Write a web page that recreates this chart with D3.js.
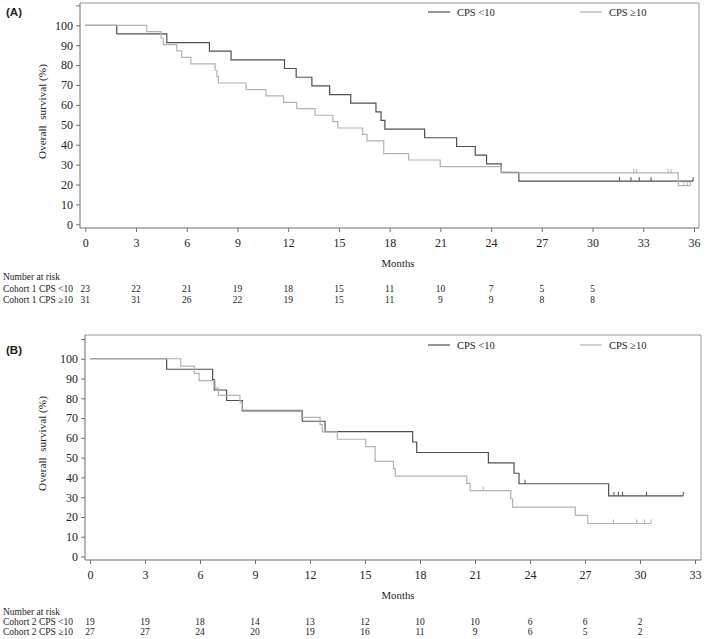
<!DOCTYPE html>
<html><head><meta charset="utf-8">
<script src="https://cdn.jsdelivr.net/npm/d3@7"></script>
<style>body{margin:0;background:#fff}svg{display:block}text{font-family:"Liberation Serif","Times New Roman",serif;fill:#222}</style>
</head><body><svg id="c" width="709" height="639"></svg>
<script>
// ---------- data ----------
const monthTicks = [0,3,6,9,12,15,18,21,24,27,30,33,36];
const survTicks = [0,10,20,30,40,50,60,70,80,90,100,110];
const seriesNames = ["CPS <10","CPS \u226510"];

// Panel A (cohort 1)
const aLtTimes = [1.86,4.82,7.34,8.62,11.78,12.47,13.4,14.45,15.7,17.19,17.49,17.72,20.07,21.96,23.06,23.73,24.6,25.64];
const aLtSurv  = [95.7,91.3,87.0,82.6,78.3,73.9,69.6,65.2,60.9,56.5,52.2,47.8,43.5,39.1,34.8,30.4,26.1,21.7];
const aLtCens  = [31.6,32.27,32.76,33.46,35.95];
const aGeTimes = [3.63,4.48,4.62,5.41,5.7,6.24,7.68,7.78,7.87,9.51,10.68,11.72,12.51,13.59,14.64,14.93,16.4,16.66,17.65,19.12,20.99,24.6,35.07];
const aGeSurv  = [96.8,93.5,90.3,87.1,83.9,80.6,77.4,74.2,71.0,67.7,64.5,61.3,58.1,54.8,51.6,48.4,45.2,41.9,35.5,32.3,29.0,25.8,19.4];
const aGeCens  = [32.44,32.59,34.46,34.64,35.4,35.6,35.78];
const aRiskTimes = [0,3,6,9,12,15,18,21,24,27,30];
const aRiskLt = [23,22,21,19,18,15,11,10,7,5,5];
const aRiskGe = [31,31,26,22,19,15,11,9,9,8,8];

// Panel B (cohort 2)
const bLtTimes = [4.18,6.69,6.78,7.45,8.31,11.58,12.82,17.6,17.82,21.73,23.13,23.4,28.29];
const bLtSurv  = [94.7,89.5,84.2,78.9,73.7,68.4,63.2,57.9,52.6,47.4,42.1,36.8,30.7];
const bLtCens  = [23.73,28.58,28.82,29.05,30.36,32.36];
const bGeTimes = [4.95,5.69,5.95,6.82,7.0,8.18,8.3,11.55,12.55,12.67,13.49,15.04,15.55,16.55,16.65,20.55,20.73,22.95,23.05,26.47,27.15];
const bGeSurv  = [96.3,92.6,88.9,85.2,81.5,77.8,74.1,70.4,66.7,63.0,59.3,55.6,48.1,44.4,40.7,37.0,33.3,29.2,25.0,20.8,16.7];
const bGeCens  = [21.45,28.55,29.82,30.24,30.6];
const bRiskTimes = [0,3,6,9,12,15,18,21,24,27,30];
const bRiskLt = [19,19,18,14,13,12,10,10,6,6,2];
const bRiskGe = [27,27,24,20,19,16,11,9,6,5,2];

// ---------- layout / style ----------
const darkCol = "#4f4f4f", lightCol = "#b2b2b2", axisCol = "#6f6f6f", frameCol = "#9a9a9a";

const panels = [
  {label:"(A)", labelY:12, xMax:36, frame:{l:80,r:699,t:3,b:228}, xr:[85.3,694], yr:[224.3,5.4],
   legendY:12, monthsY:263, riskY:277, rowYs:[289,300], cohort:"Cohort 1",
   lt:{t:aLtTimes,s:aLtSurv,c:aLtCens}, ge:{t:aGeTimes,s:aGeSurv,c:aGeCens},
   risk:{t:aRiskTimes,lt:aRiskLt,ge:aRiskGe}},
  {label:"(B)", labelY:350, xMax:33, frame:{l:85,r:701,t:335,b:560}, xr:[90,695], yr:[556.5,339],
   legendY:345, monthsY:595, riskY:612, rowYs:[622,632], cohort:"Cohort 2",
   lt:{t:bLtTimes,s:bLtSurv,c:bLtCens}, ge:{t:bGeTimes,s:bGeSurv,c:bGeCens},
   risk:{t:bRiskTimes,lt:bRiskLt,ge:bRiskGe}}
];

const svg = d3.select("#c");

function kmPoints(times, surv, endT){
  const pts = [[0,100]];
  let cur = 100;
  times.forEach((t,i)=>{ pts.push([t,cur]); pts.push([t,surv[i]]); cur = surv[i]; });
  pts.push([endT,cur]);
  return pts;
}
function survAt(times, surv, t){
  let v = 100;
  times.forEach((tt,i)=>{ if (tt <= t) v = surv[i]; });
  return v;
}

panels.forEach(p=>{
  const g = svg.append("g");
  const x = d3.scaleLinear().domain([0,p.xMax]).range(p.xr);
  const y = d3.scaleLinear().domain([0,110]).range(p.yr);
  const f = p.frame;

  // panel label
  g.append("text").attr("x",6).attr("y",p.labelY).attr("dy","0.35em")
    .style("font-family","'Liberation Sans',Arial,sans-serif").style("font-weight","bold")
    .style("font-size","11.5px").text(p.label);

  // frame
  g.append("line").attr("x1",f.l).attr("x2",f.r).attr("y1",f.t).attr("y2",f.t).attr("stroke",frameCol);
  g.append("line").attr("x1",f.r).attr("x2",f.r).attr("y1",f.t).attr("y2",f.b).attr("stroke",frameCol);

  // y axis
  const ya = g.append("g").attr("transform",`translate(${f.l},0)`)
    .call(d3.axisLeft(y).tickValues(survTicks).tickSize(4).tickPadding(3)
      .tickFormat(d=> d===110 ? "" : d));
  ya.select(".domain").remove();
  ya.append("line").attr("x1",0).attr("x2",0).attr("y1",f.t).attr("y2",f.b).attr("stroke",axisCol);
  ya.selectAll(".tick line").attr("stroke",axisCol);
  ya.selectAll(".tick text").style("font-size","12px").style("font-family","'Liberation Serif',serif").attr("fill","#222");

  // x axis
  const xa = g.append("g").attr("transform",`translate(0,${f.b})`)
    .call(d3.axisBottom(x).tickValues(monthTicks.filter(d=>d<=p.xMax)).tickSize(4).tickPadding(6.5));
  xa.select(".domain").remove();
  xa.append("line").attr("x1",f.l).attr("x2",f.r).attr("y1",0).attr("y2",0).attr("stroke",axisCol);
  xa.selectAll(".tick line").attr("stroke",axisCol);
  xa.selectAll(".tick text").style("font-size","12px").style("font-family","'Liberation Serif',serif").attr("fill","#222");

  // y label
  const yc = (f.t + f.b)/2 - 4;
  g.append("text").attr("transform",`translate(42,${yc}) rotate(-90)`)
    .attr("text-anchor","middle").attr("dy","0.35em").style("font-size","11.2px")
    .style("white-space","pre").text("Overall  survival (%)");

  // months label
  g.append("text").attr("x",398).attr("y",p.monthsY).attr("text-anchor","middle").attr("dy","0.35em")
    .style("font-size","10.8px").text("Months");

  // curves
  const line = d3.line().x(d=>x(d[0])).y(d=>y(d[1]));
  const series = [{d:p.lt,col:darkCol},{d:p.ge,col:lightCol}];
  series.forEach(s=>{
    const endT = d3.max(s.d.c.concat(s.d.t));
    g.append("path").datum(kmPoints(s.d.t,s.d.s,endT)).attr("d",line)
      .attr("fill","none").attr("stroke",s.col).attr("stroke-width",1.2);
    g.selectAll(null).data(s.d.c).enter().append("line")
      .attr("x1",d=>x(d)).attr("x2",d=>x(d))
      .attr("y1",d=>y(survAt(s.d.t,s.d.s,d))).attr("y2",d=>y(survAt(s.d.t,s.d.s,d))-4)
      .attr("stroke",s.col).attr("stroke-width",1);
  });

  // legend
  const legX = [428,580];
  seriesNames.forEach((n,i)=>{
    g.append("line").attr("x1",legX[i]).attr("x2",legX[i]+22).attr("y1",p.legendY).attr("y2",p.legendY)
      .attr("stroke",i===0?darkCol:lightCol).attr("stroke-width",1.2);
    g.append("text").attr("x",legX[i]+29).attr("y",p.legendY).attr("dy","0.35em")
      .style("font-size","10.5px").text(n);
  });

  // number at risk
  g.append("text").attr("x",3).attr("y",p.riskY).attr("dy","0.35em").style("font-size","9.5px").text("Number at risk");
  const rows = [{lab:p.cohort+" CPS <10",v:p.risk.lt},{lab:p.cohort+" CPS \u226510",v:p.risk.ge}];
  rows.forEach((r,i)=>{
    g.append("text").attr("x",3).attr("y",p.rowYs[i]).attr("dy","0.35em").style("font-size","9.5px").text(r.lab);
    g.selectAll(null).data(r.v).enter().append("text")
      .attr("x",(d,j)=>x(p.risk.t[j])).attr("y",p.rowYs[i]).attr("dy","0.35em")
      .attr("text-anchor","middle").style("font-size","9.5px").text(d=>d);
  });
});
</script></body></html>
